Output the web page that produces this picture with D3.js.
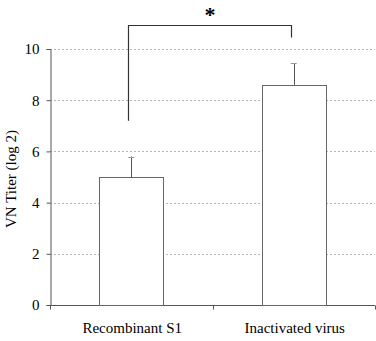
<!DOCTYPE html>
<html><head><meta charset="utf-8">
<script src="https://cdn.jsdelivr.net/npm/d3@7"></script>
<style>body{margin:0;background:#fff}svg{display:block}</style>
</head><body>
<script>
const categories = ["Recombinant S1", "Inactivated virus"];
const means = [5.0, 8.6];
const errors = [0.8, 0.85];
const yTicks = [0, 2, 4, 6, 8, 10];
const bracketValues = [7.2, 10.95, 10.45]; // left end, top, right end
const sigLabel = "*";
const yLabel = "VN Titer (log 2)";

const W = 376, H = 341;
const m = {left: 50, right: 1, top: 49, bottom: 36};
const svg = d3.select("body").append("svg").attr("width", W).attr("height", H);
const font = "'Liberation Serif', 'Times New Roman', serif";

const x = d3.scaleBand().domain(categories).range([m.left, W - m.right]).padding(0);
const y = d3.scaleLinear().domain([0, 10]).range([H - m.bottom, m.top]);

// gridlines
svg.append("g").selectAll("line").data(yTicks.filter(d => d > 0)).join("line")
  .attr("x1", m.left).attr("x2", W - m.right)
  .attr("y1", d => Math.round(y(d)) + 0.5).attr("y2", d => Math.round(y(d)) + 0.5)
  .attr("stroke", "#b5b5b5").attr("stroke-dasharray", "2,2");

// y axis
const ya = svg.append("g").attr("transform", `translate(${m.left + 0.5},0)`)
  .call(d3.axisLeft(y).tickValues(yTicks).tickSize(4).tickPadding(7));
ya.select(".domain").attr("stroke", "#555");
ya.selectAll(".tick line").attr("stroke", "#555");
ya.selectAll("text").attr("font-family", font).attr("font-size", 15).attr("fill", "#000");

// x axis
const xa = svg.append("g").attr("transform", `translate(0,${Math.round(y(0)) + 0.5})`);
xa.append("line").attr("x1", m.left).attr("x2", W - m.right).attr("stroke", "#555");
const bounds = [m.left, m.left + x.step(), W - m.right - 0.5];
xa.selectAll(".xt").data(bounds).join("line").attr("class", "xt")
  .attr("x1", d => Math.round(d) + 0.5).attr("x2", d => Math.round(d) + 0.5)
  .attr("y1", 0).attr("y2", 4).attr("stroke", "#555");
xa.selectAll("text").data(categories).join("text")
  .attr("x", d => x(d) + x.bandwidth() / 2 + 1).attr("y", 27)
  .attr("text-anchor", "middle").attr("font-family", font).attr("font-size", 15).text(d => d);

const barW = x.bandwidth() * 0.395;
const cx = d => x(d) + x.bandwidth() / 2;

// error bars
svg.append("g").selectAll("line").data(categories).join("line")
  .attr("x1", d => Math.round(cx(d)) + 0.5).attr("x2", d => Math.round(cx(d)) + 0.5)
  .attr("y1", (d, i) => y(means[i])).attr("y2", (d, i) => y(means[i] + errors[i]))
  .attr("stroke", "#555");
svg.append("g").selectAll("line").data(categories).join("line")
  .attr("x1", d => cx(d) - 3).attr("x2", d => cx(d) + 3)
  .attr("y1", (d, i) => Math.round(y(means[i] + errors[i])) + 0.5)
  .attr("y2", (d, i) => Math.round(y(means[i] + errors[i])) + 0.5)
  .attr("stroke", "#999");

// bars
svg.append("g").selectAll("rect").data(categories).join("rect")
  .attr("x", d => Math.round(cx(d) - barW / 2) + 0.5)
  .attr("y", (d, i) => Math.round(y(means[i])) + 0.5)
  .attr("width", Math.round(barW))
  .attr("height", (d, i) => Math.round(y(0)) - Math.round(y(means[i])))
  .attr("fill", "#fff").attr("stroke", "#666");

// significance bracket
const bx1 = Math.round(cx(categories[0]) - 3) + 0.5, bx2 = Math.round(cx(categories[1]) - 3) + 0.5;
svg.append("path")
  .attr("d", `M${bx1},${y(bracketValues[0])}V${Math.round(y(bracketValues[1])) + 0.5}H${bx2}V${y(bracketValues[2])}`)
  .attr("fill", "none").attr("stroke", "#333").attr("stroke-width", 1.2);
svg.append("text").attr("x", (bx1 + bx2) / 2).attr("y", 22)
  .attr("text-anchor", "middle").attr("font-family", font).attr("font-size", 22).attr("font-weight", "bold")
  .text(sigLabel);

// y label
svg.append("text").attr("transform", `translate(16,179) rotate(-90)`)
  .attr("text-anchor", "middle").attr("font-family", font).attr("font-size", 15).text(yLabel);
</script>
</body></html>
